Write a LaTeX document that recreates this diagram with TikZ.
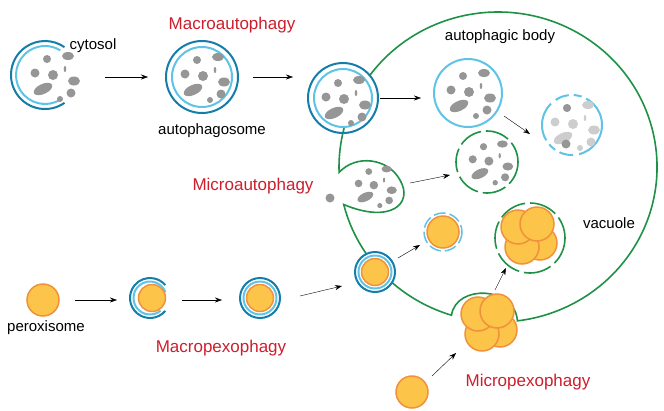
\documentclass[tikz,border=0pt]{standalone}
\usepackage{fontspec}
\setmainfont{Liberation Sans}
\usetikzlibrary{arrows.meta}

\definecolor{darkblue}{RGB}{20,125,170}
\definecolor{lightblue}{RGB}{95,195,230}
\definecolor{vacgreen}{RGB}{30,145,70}
\definecolor{titlered}{RGB}{205,30,45}
\definecolor{cargogray}{RGB}{150,150,150}
\definecolor{fadegray}{RGB}{205,205,205}
\definecolor{peroxfill}{RGB}{252,196,72}
\definecolor{peroxedge}{RGB}{240,145,60}

\tikzset{
    outer/.style={draw=darkblue, line width=2pt},
    inner/.style={draw=lightblue, line width=2pt},
    vacline/.style={draw=vacgreen, line width=1.6pt},
    perox/.style={fill=peroxfill, draw=peroxedge, line width=1.5pt},
    flow/.style={-{Stealth[length=7pt,width=5pt]}, thin, black},
    label/.style={font=\fontsize{15}{17}\selectfont, inner sep=0pt},
    title/.style={font=\fontsize{17}{19}\selectfont, text=titlered, inner sep=0pt}
}

% gray cargo particles around a centre
\newcommand{\cargo}[3][cargogray]{%
  \begin{scope}[shift={#2}, scale=#3, fill=#1]
    \fill (-5,-17) circle (4);
    \fill (16,-20) ellipse (6 and 4);
    \fill (1,-1) circle (5);
    \fill (22,5) ellipse (6 and 4.5);
    \fill[rotate around={25:(-9,13)}] (-9,13) ellipse (10 and 5);
    \fill (19,17) circle (4.5);
    \fill (8,23) circle (3);
    \fill (13,-7) ellipse (1.3 and 3);
    \fill (-17,-3) circle (4.5);
  \end{scope}}

% cluster of peroxisomes
\newcommand{\cluster}[1]{%
  \begin{scope}[shift={#1}]
    \draw[perox] (12,8) circle (17);
    \draw[perox] (-6,12) circle (17);
    \draw[perox] (-10,-8) circle (17);
    \draw[perox] (9,-11) circle (17);
  \end{scope}}

\begin{document}
\begin{tikzpicture}[x=1pt, y=-1pt]
    \useasboundingbox (0,0) rectangle (664,410);

    % Vacuole
    \draw[vacline] (369.4,75.9) arc[start angle=-144, end angle=83, x radius=159, y radius=155]
        .. controls (515,286) and (456,284) .. (451.5,315.2)
        arc[start angle=107, end angle=132, x radius=159, y radius=155];
    \draw[vacline] (366.2,253.7) arc[start angle=146, end angle=166, x radius=159, y radius=155]
        .. controls (390,224) and (414,204) .. (400,180)
        .. controls (388,158) and (356,154) .. (339.1,172.4)
        arc[start angle=178, end angle=194.5, x radius=159, y radius=155];

    % Macroautophagy
    \draw[outer] (45,75) ++(55:34) arc[start angle=55, end angle=305, radius=34];
    \draw[inner] (45,75) ++(58:29) arc[start angle=58, end angle=302, radius=29];
    \cargo{(52,76)}{1}
    \node[label] (cyto) at (93,46) {cytosol};
    \draw[outer] (202,77) circle (36);
    \draw[inner] (202,77) circle (30);
    \cargo{(202,77)}{1}
    \node[title] (macroa) at (232,25) {Macroautophagy};
    \node[label] (aphs) at (212,131) {autophagosome};
    \draw[outer] (343,98) circle (35);
    \draw[inner] (343,98) circle (29);
    \cargo{(343,100)}{1}
    \draw[inner] (468,93) circle (34);
    \cargo{(468,93)}{1}
    \node[label] (abody) at (500,37) {autophagic body};
    \draw[inner, dash pattern=on 40pt off 6pt on 14pt off 5pt on 8pt off 5pt] (572,125) circle (30);
    \cargo[fadegray]{(572,125)}{1}
    \fill[cargogray] (567,108) circle (4);
    \fill[cargogray] (566,144) circle (4.5);

    \draw[flow] (105,77) -- (148,77);
    \draw[flow] (253,77) -- (293,77);
    \draw[flow] (380,98) -- (421,98);
    \draw[flow] (504,116) -- (530,134);

    % Microautophagy
    \node[title] (microa) at (253,186) {Microautophagy};
    \fill[cargogray] (330,198) circle (4.5);
    \cargo{(373,186)}{0.85}
    \draw[flow] (410,183) -- (450,175);
    \draw[vacline, dash pattern=on 24pt off 5pt] (487,162) circle (31);
    \cargo{(488,162)}{0.9}

    % Macropexophagy
    \draw[perox] (43,300) circle (16);
    \node[label] (perox) at (46,328) {peroxisome};
    \draw[flow] (75,300) -- (117,300);
    \draw[outer] (150,298) ++(40:20) arc[start angle=40, end angle=320, radius=20];
    \draw[inner] (150,298) ++(50:16.5) arc[start angle=50, end angle=340, radius=16.5];
    \draw[perox] (152,298) circle (13.5);
    \draw[flow] (182,300) -- (222,300);
    \draw[outer] (260,298) circle (20);
    \draw[inner] (260,298) circle (16.5);
    \draw[perox] (260,298) circle (13.5);
    \node[title] (macrop) at (221,348) {Macropexophagy};
    \draw[flow] (300,296) -- (342,286);
    \draw[outer] (375,272) circle (20);
    \draw[inner] (375,272) circle (16.5);
    \draw[perox] (375,272) circle (13.5);
    \draw[flow] (398,258) -- (420,245);
    \draw[inner, line width=1.5pt, dash pattern=on 12pt off 4pt] (443,232) circle (19);
    \draw[perox] (443,232) circle (16);

    % Micropexophagy
    \cluster{(488,322)}
    \draw[flow] (495,290) -- (506,268);
    \cluster{(528,235)}
    \draw[vacline, dash pattern=on 28pt off 5pt] (530,238) circle (35);
    \draw[perox] (412,392) circle (16);
    \draw[flow] (432,376) -- (456,353);
    \node[title] (microp) at (528,382) {Micropexophagy};
    \node[label] (vac) at (609,223) {vacuole};
\end{tikzpicture}
\end{document}
